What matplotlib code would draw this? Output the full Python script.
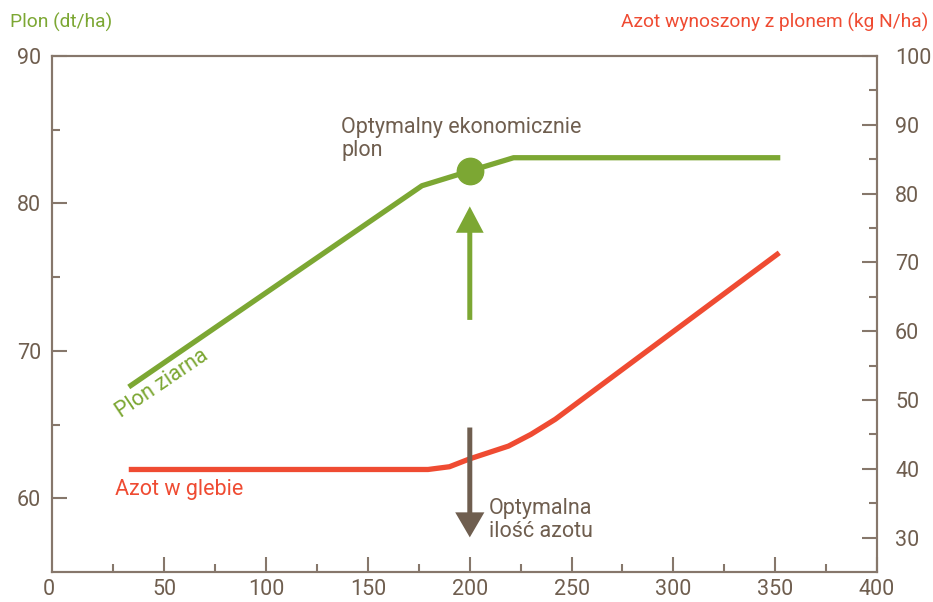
import matplotlib.pyplot as plt
import numpy as np
from matplotlib.ticker import FixedLocator

plt.rcParams['font.family'] = ['Roboto', 'DejaVu Sans']

# dawka azotu (kg N/ha) i plon ziarna (dt/ha) - lewa os
dawka_plon = [32.5, 176.5, 200, 221.5, 352.5]
plon = [67.55, 81.2, 82.2, 83.1, 83.1]

# azot w glebie / wynoszony z plonem (kg N/ha) - prawa os
dawka_azot = [32.5, 179.5, 190, 200, 219, 230, 242, 352]
azot = [39.9, 39.9, 40.3, 41.45, 43.3, 45.0, 47.2, 71.4]

opt_dawka = 200
opt_plon = 82.2

x_ticks = [50, 100, 150, 200, 250, 300, 350, 400]
x_minor = [25, 75, 125, 175, 225, 275, 325, 375]
y_left_ticks = [60, 70, 80, 90]
y_left_minor = [65, 75, 85]
y_right_ticks = [30, 40, 50, 60, 70, 80, 90, 100]
y_right_minor = [35, 45, 55, 65, 75, 85, 95]

GREEN = '#7ca733'
RED = '#ef4b32'
BROWN = '#6f5e4f'
AXIS = '#86776b'

fig = plt.figure(figsize=(9.33, 6.02), dpi=100)
ax = fig.add_axes([52/933, 30/602, 825/933, 516/602])
ax2 = ax.twinx()
ax.set_zorder(ax2.get_zorder() + 1)
ax.patch.set_visible(False)

ax.set_xlim(-5.2, 400)
ax.set_ylim(55, 90)
ax2.set_ylim(25, 100)

ax2.plot(dawka_azot, azot, color=RED, lw=3.8, solid_capstyle='butt', solid_joinstyle='round')
ax.plot(dawka_plon, plon, color=GREEN, lw=3.8, solid_capstyle='butt', solid_joinstyle='round')
ax.plot([opt_dawka], [opt_plon], 'o', ms=19, color=GREEN, zorder=5)

# strzalki
ax.annotate('', xy=(opt_dawka, 79.8), xytext=(opt_dawka, 72.1),
            arrowprops=dict(width=3.6, headwidth=20, headlength=19, color=GREEN, lw=0, shrink=0))
ax.annotate('', xy=(opt_dawka, 57.35), xytext=(opt_dawka, 64.8),
            arrowprops=dict(width=3.6, headwidth=21, headlength=18, color=BROWN, lw=0, shrink=0))

fs = 15.5
ax.text(136.9, 85.85, 'Optymalny ekonomicznie\nplon', color=BROWN, fontsize=fs,
        ha='left', va='top', linespacing=1.1)
ax.text(209.5, 60.0, 'Optymalna\nilość azotu', color=BROWN, fontsize=fs,
        ha='left', va='top', linespacing=1.12)
ax.text(25.8, 60.25, 'Azot w glebie', color=RED, fontsize=fs, ha='left', va='baseline')
ax.text(48.9, 67.75, 'Plon ziarna', color=GREEN, fontsize=fs, ha='center', va='center',
        rotation=34, rotation_mode='anchor')

fig.text(10/933, 1 - 22/602, 'Plon (dt/ha)', color=GREEN, fontsize=13.8, ha='left', va='center')
fig.text(928/933, 1 - 22/602, 'Azot wynoszony z plonem (kg N/ha)', color=RED, fontsize=13.8,
         ha='right', va='center')

# osie
ax.set_xticks(x_ticks)
ax.xaxis.set_minor_locator(FixedLocator(x_minor))
ax.set_yticks(y_left_ticks)
ax.yaxis.set_minor_locator(FixedLocator(y_left_minor))
ax2.set_yticks(y_right_ticks)
ax2.yaxis.set_minor_locator(FixedLocator(y_right_minor))

ax.tick_params(axis='x', which='major', direction='in', length=11, width=1.5, color=AXIS,
               labelcolor=BROWN, labelsize=fs, pad=5)
ax.tick_params(axis='x', which='minor', direction='in', length=6, width=1.5, color=AXIS)
ax.tick_params(axis='y', which='major', direction='in', length=11, width=1.5, color=AXIS,
               labelcolor=BROWN, labelsize=fs, pad=8)
ax.tick_params(axis='y', which='minor', direction='in', length=6, width=1.5, color=AXIS)
ax2.tick_params(axis='y', which='major', direction='in', length=11, width=1.5, color=AXIS,
                labelcolor=BROWN, labelsize=fs, pad=13)
ax2.tick_params(axis='y', which='minor', direction='in', length=6, width=1.5, color=AXIS)

# etykieta "0" lezy troche na lewo od osi
ax.annotate('0', xy=(-7, 0), xycoords=('data', 'axes fraction'), xytext=(0, -5),
            textcoords='offset points', ha='center', va='top', color=BROWN, fontsize=fs,
            annotation_clip=False)

for a in (ax, ax2):
    for s in a.spines.values():
        s.set_color(AXIS)
        s.set_linewidth(1.5)

fig.savefig('out.png', dpi=100)
